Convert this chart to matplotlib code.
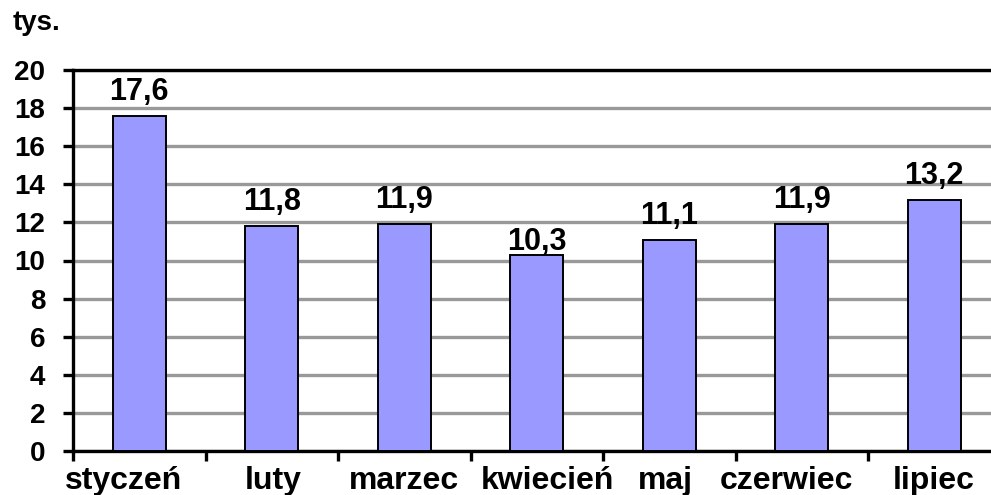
import matplotlib.pyplot as plt
import matplotlib.transforms as mtransforms
import numpy as np

months = ["styczeń", "luty", "marzec", "kwiecień", "maj", "czerwiec", "lipiec"]
values = [17.6, 11.8, 11.9, 10.3, 11.1, 11.9, 13.2]
value_labels = ["17,6", "11,8", "11,9", "10,3", "11,1", "11,9", "13,2"]
y_ticks = [0, 2, 4, 6, 8, 10, 12, 14, 16, 18, 20]

plt.rcParams["font.family"] = ["Liberation Sans", "DejaVu Sans"]
plt.rcParams["font.weight"] = "bold"

fig = plt.figure(figsize=(9.91, 4.95), dpi=100)
ax = fig.add_axes([73 / 991, 1 - 451 / 495, 927.5 / 991, 381 / 495])

x = np.arange(len(months))
ax.bar(x, values, width=0.4, color="#9999FF", edgecolor="black", linewidth=1.4, zorder=3)

# labels sit ~16 px above the bar tops; the kwiecień one hugs its bar in the original
for i, (xi, v, lab) in enumerate(zip(x, values, value_labels)):
    off = 3.5 if i == 3 else 11.5
    ax.annotate(lab, (xi, v), xytext=(0, off), textcoords="offset points",
                ha="center", va="baseline", fontsize=22, fontweight="bold")

ax.set_xlim(-0.5, len(months) - 0.5)
ax.set_ylim(0, 20)
ax.set_yticks(y_ticks)
ax.set_yticklabels([str(t) for t in y_ticks], fontsize=20, fontweight="bold")
ax.yaxis.grid(True, color="#999999", linewidth=2.4, zorder=0)
ax.set_axisbelow(True)

ax.set_xticks(x)
ax.set_xticklabels(months, fontsize=23, fontweight="bold")
ax.tick_params(axis="x", length=0, pad=11)
ax.set_xticks(np.arange(-0.5, len(months), 1.0), minor=True)
ax.tick_params(axis="x", which="minor", length=7, width=2.4, direction="out")
ax.tick_params(axis="y", length=7, width=2.4, direction="out", pad=13)

# the original's crowded category labels are nudged sideways a bit (pixels)
nudges = [-16, 1, 0, 11, -4, -15, -1]
for lbl, dx in zip(ax.get_xticklabels(), nudges):
    lbl.set_transform(lbl.get_transform() + mtransforms.ScaledTranslation(dx / 100, 0, fig.dpi_scale_trans))

for side in ["left", "bottom", "top"]:
    ax.spines[side].set_linewidth(2.4)
ax.spines["right"].set_visible(False)

fig.text(13 / 991, 1 - 30 / 495, "tys.", fontsize=20, fontweight="bold", va="baseline")

fig.savefig("out.png", dpi=100)
